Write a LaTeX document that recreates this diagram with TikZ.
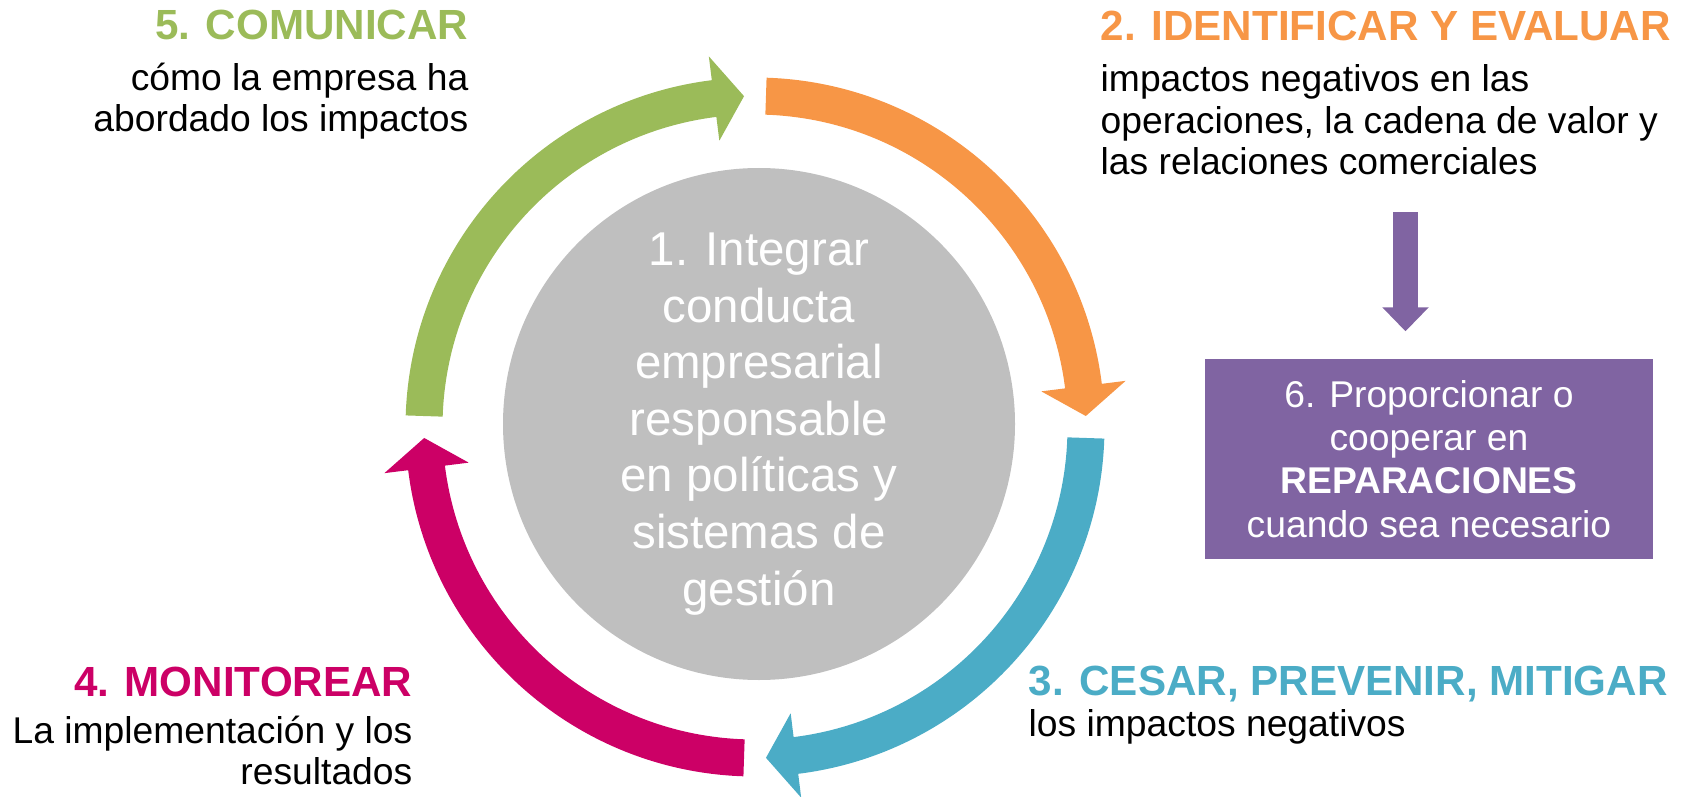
\documentclass[tikz,border=0pt]{standalone}
\usepackage{fontspec}
\setmainfont{Liberation Sans}
\usepackage{xcolor}
\usetikzlibrary{arrows.meta,positioning}

\definecolor{pasoverde}{HTML}{9BBB59}
\definecolor{pasonaranja}{HTML}{F79646}
\definecolor{pasoazul}{HTML}{4BACC6}
\definecolor{pasomagenta}{HTML}{CC0066}
\definecolor{pasomorado}{HTML}{8064A2}
\definecolor{pasogris}{HTML}{BFBFBF}

% ring radii: outer, inner, middle, head outer, head inner
\def\ringout{3.495}
\def\ringin{3.125}
\def\ringmid{3.31}
\def\headout{3.735}
\def\headin{2.885}

% #1 colour, #2 tail angle, #3 head base angle, #4 tip angle
\newcommand{\ringarrow}[4]{%
  \fill[#1] (#2:\ringout) arc[start angle=#2, end angle=#3, radius=\ringout]
    -- (#3:\headout) -- (#4:\ringmid) -- (#3:\headin) -- (#3:\ringin)
    arc[start angle=#3, end angle=#2, radius=\ringin] -- cycle;}

\begin{document}
\begin{tikzpicture}[>=Stealth,
  steptitle/.style={font=\fontsize{12}{14}\selectfont\bfseries, inner sep=0pt},
  stepbody/.style={font=\fontsize{10.6}{11.8}\selectfont, inner sep=0pt}]
  \useasboundingbox (0,0) rectangle (16.91,7.96);
  % --- Cycle arrows ---
  \begin{scope}[shift={(7.55,3.69)}]
    \ringarrow{pasoverde}{178.1}{97.1}{91.9}
    \ringarrow{pasonaranja}{88.1}{7.1}{1.9}
    \ringarrow{pasoazul}{-1.9}{-82.9}{-88.1}
    \ringarrow{pasomagenta}{-91.9}{-172.9}{-178.1}
  \end{scope}
  % --- Centre ---
  \node[circle, fill=pasogris, minimum size=5.12cm, inner sep=0pt, text=white, align=center,
    font=\fontsize{13.5}{16.1}\selectfont] (integrar) at (7.59,3.72)
    {1. Integrar\\conducta\\empresarial\\responsable\\en políticas y\\sistemas de\\gestión};
  % --- Step labels ---
  \node[steptitle, text=pasoverde, anchor=base east] (comunicar) at (4.69,7.56) {5. COMUNICAR};
  \node[stepbody, align=right, anchor=north east] (comunicartxt) at (4.69,7.34)
    {cómo la empresa ha\\abordado los impactos};
  \node[steptitle, text=pasonaranja, anchor=base west] (identificar) at (11.00,7.55) {2. IDENTIFICAR Y EVALUAR};
  \node[stepbody, align=left, anchor=north west] (identificartxt) at (11.00,7.32)
    {impactos negativos en las\\operaciones, la cadena de valor y\\las relaciones comerciales};
  \node[steptitle, text=pasoazul, anchor=base west] (cesar) at (10.28,1.01) {3. CESAR, PREVENIR, MITIGAR};
  \node[stepbody, anchor=base west] (cesartxt) at (10.28,0.60) {los impactos negativos};
  \node[steptitle, text=pasomagenta, anchor=base east] (monitorear) at (4.13,1.00) {4. MONITOREAR};
  \node[stepbody, align=right, anchor=north east] (monitoreartxt) at (4.13,0.81)
    {La implementación y los\\resultados};
  % --- Remediation ---
  \node[fill=pasomorado, text=white, minimum width=4.48cm, minimum height=2cm, align=center,
    font=\fontsize{10.6}{12.3}\selectfont] (reparar) at (14.29,3.37)
    {6. Proporcionar o\\cooperar en\\\textbf{REPARACIONES}\\cuando sea necesario};
  \coordinate (reptop) at (14.055,5.84);
  \draw[pasomorado, line width=0.25cm, -{Triangle[width=0.45cm,length=0.24cm]}, shorten >=0.27cm]
    (reptop) -- (reptop |- reparar.north);
\end{tikzpicture}
\end{document}
